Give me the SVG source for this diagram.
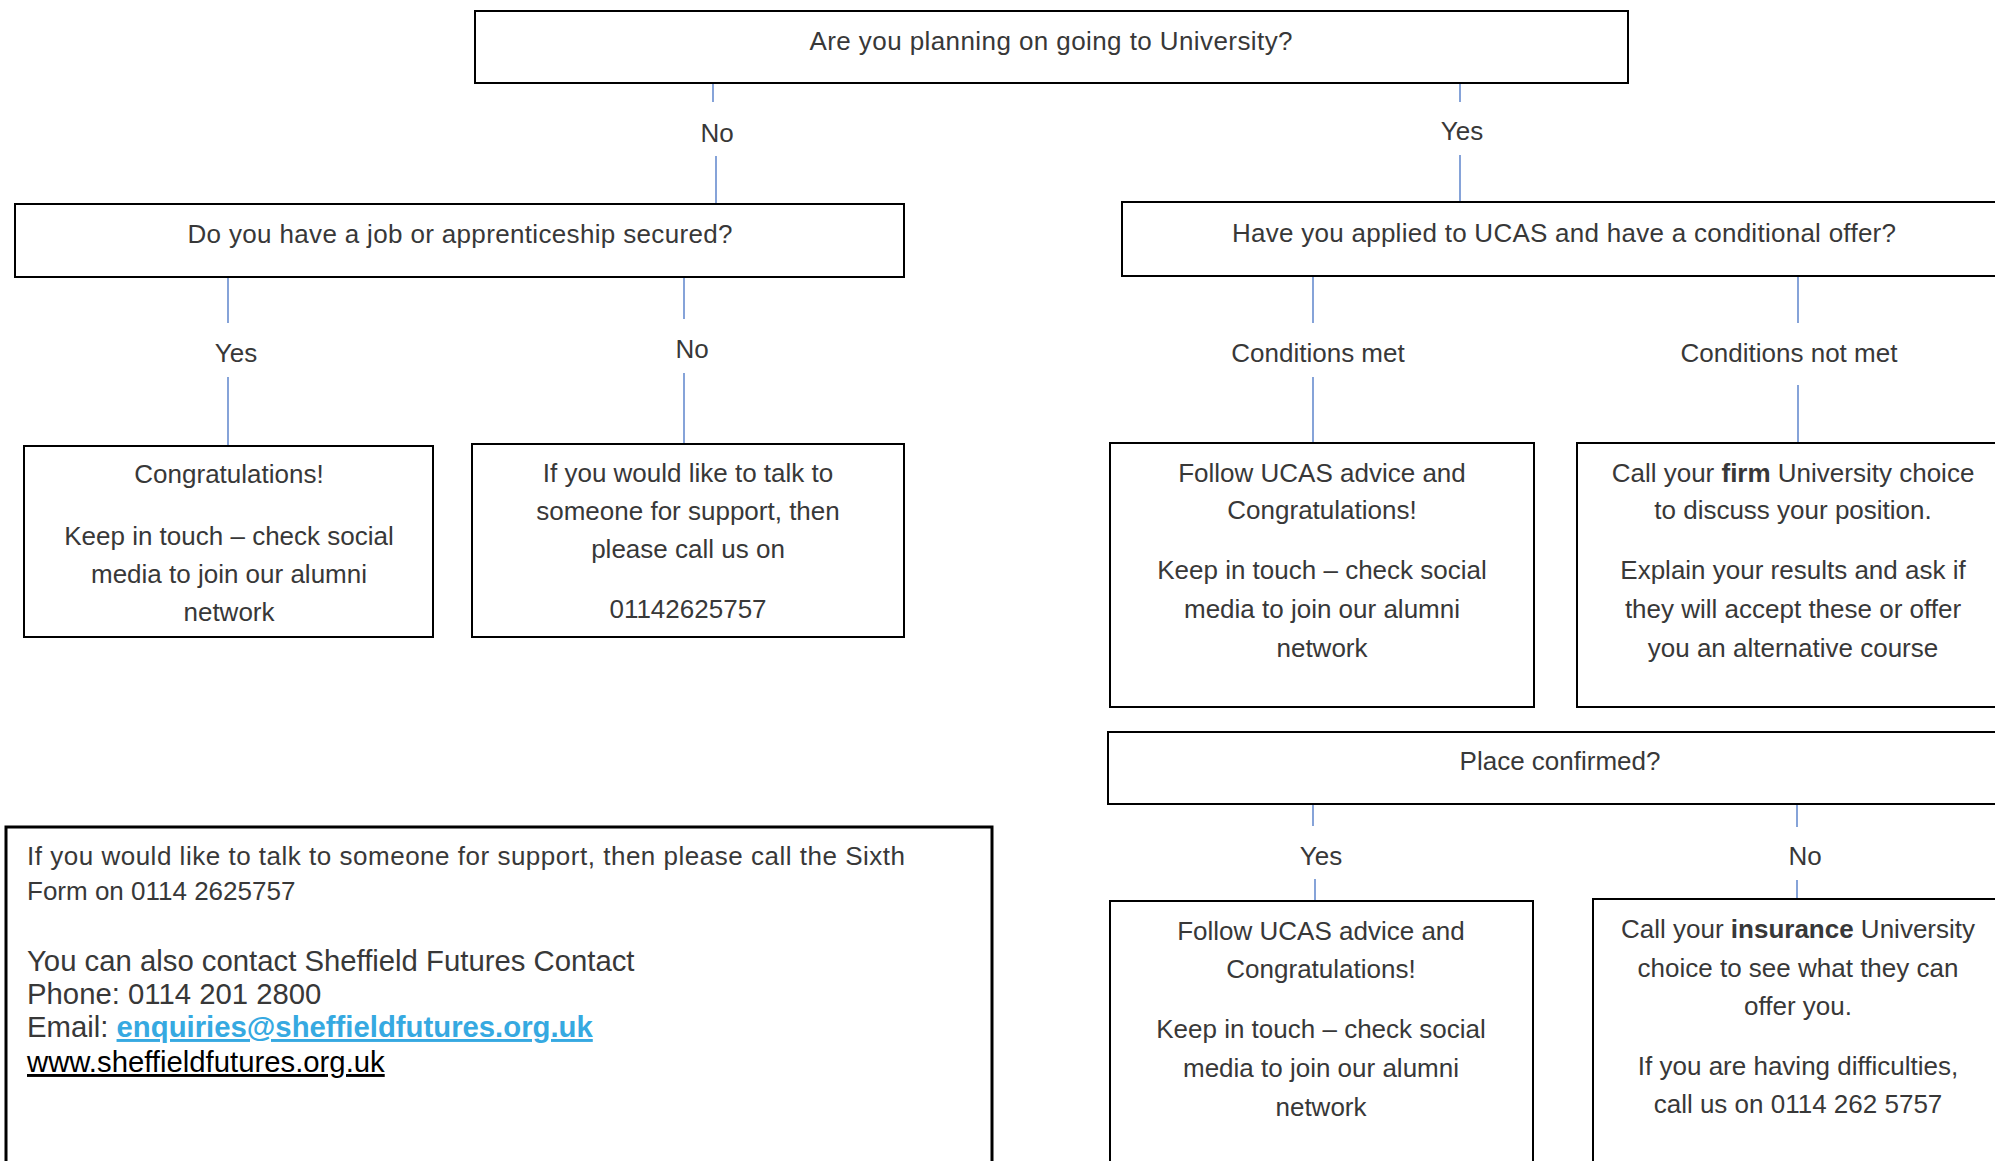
<svg xmlns="http://www.w3.org/2000/svg" width="1995" height="1161" viewBox="0 0 1995 1161">
<style>
.box{fill:#fff;stroke:#000;stroke-width:2}
.info{fill:#fff;stroke:#000;stroke-width:3}
.t{font-family:'Liberation Sans',Arial,sans-serif;font-size:26px;fill:#383838;text-anchor:middle}
.l{font-family:'Liberation Sans',Arial,sans-serif;font-size:26px;fill:#383838}
.a{font-family:'Liberation Sans',Arial,sans-serif;font-size:29.3px;fill:#383838}
.conn line{stroke:#4472C4;stroke-width:1.3}
</style>
<rect width="1995" height="1161" fill="#fff"/>
<g id="connectors" class="conn">
<line x1="713" y1="84" x2="713" y2="102"/><line x1="716" y1="156" x2="716" y2="204"/>
<line x1="1460" y1="84" x2="1460" y2="102"/><line x1="1460" y1="155" x2="1460" y2="202"/>
<line x1="228" y1="278" x2="228" y2="323"/><line x1="228" y1="377" x2="228" y2="445"/>
<line x1="684" y1="278" x2="684" y2="319"/><line x1="684" y1="373" x2="684" y2="443"/>
<line x1="1313" y1="277" x2="1313" y2="323"/><line x1="1313" y1="377" x2="1313" y2="442"/>
<line x1="1798" y1="277" x2="1798" y2="323"/><line x1="1798" y1="385" x2="1798" y2="442"/>
<line x1="1313" y1="805" x2="1313" y2="826"/><line x1="1315" y1="879" x2="1315" y2="900"/>
<line x1="1797" y1="805" x2="1797" y2="827"/><line x1="1797" y1="880" x2="1797" y2="898"/>
</g>
<g id="labels">
<text class="t" x="717" y="142">No</text>
<text class="t" x="1462" y="140">Yes</text>
<text class="t" x="236" y="362">Yes</text>
<text class="t" x="692" y="358">No</text>
<text class="t" x="1318" y="362">Conditions met</text>
<text class="t" x="1789" y="362">Conditions not met</text>
<text class="t" x="1321" y="865">Yes</text>
<text class="t" x="1805" y="865">No</text>
</g>
<g id="q-university">
<rect class="box" x="475" y="11" width="1153" height="72"/>
<text class="t" x="1051" y="50" textLength="483" lengthAdjust="spacing">Are you planning on going to University?</text>
</g>
<g id="q-job">
<rect class="box" x="15" y="204" width="889" height="73"/>
<text class="t" x="460" y="243" textLength="545" lengthAdjust="spacing">Do you have a job or apprenticeship secured?</text>
</g>
<g id="q-ucas">
<rect class="box" x="1122" y="202" width="884" height="74"/>
<text class="t" x="1564" y="242" textLength="664" lengthAdjust="spacing">Have you applied to UCAS and have a conditional offer?</text>
</g>
<g id="congrats-job">
<rect class="box" x="24" y="446" width="409" height="191"/>
<text class="t" x="229" y="483">Congratulations!</text>
<text class="t" x="229" y="545">Keep in touch – check social</text>
<text class="t" x="229" y="583">media to join our alumni</text>
<text class="t" x="229" y="621">network</text>
</g>
<g id="support-call">
<rect class="box" x="472" y="444" width="432" height="193"/>
<text class="t" x="688" y="482">If you would like to talk to</text>
<text class="t" x="688" y="520">someone for support, then</text>
<text class="t" x="688" y="558">please call us on</text>
<text class="t" x="688" y="618">01142625757</text>
</g>
<g id="conditions-met">
<rect class="box" x="1110" y="443" width="424" height="264"/>
<text class="t" x="1322" y="482">Follow UCAS advice and</text>
<text class="t" x="1322" y="519">Congratulations!</text>
<text class="t" x="1322" y="579">Keep in touch – check social</text>
<text class="t" x="1322" y="618">media to join our alumni</text>
<text class="t" x="1322" y="657">network</text>
</g>
<g id="conditions-not-met">
<rect class="box" x="1577" y="443" width="432" height="264"/>
<text class="t" x="1793" y="482">Call your <tspan font-weight="bold">firm</tspan> University choice</text>
<text class="t" x="1793" y="519">to discuss your position.</text>
<text class="t" x="1793" y="579">Explain your results and ask if</text>
<text class="t" x="1793" y="618">they will accept these or offer</text>
<text class="t" x="1793" y="657">you an alternative course</text>
</g>
<g id="q-place">
<rect class="box" x="1108" y="732" width="904" height="72"/>
<text class="t" x="1560" y="770">Place confirmed?</text>
</g>
<g id="place-yes">
<rect class="box" x="1110" y="901" width="423" height="290"/>
<text class="t" x="1321" y="940">Follow UCAS advice and</text>
<text class="t" x="1321" y="978">Congratulations!</text>
<text class="t" x="1321" y="1038">Keep in touch – check social</text>
<text class="t" x="1321" y="1077">media to join our alumni</text>
<text class="t" x="1321" y="1116">network</text>
</g>
<g id="place-no">
<rect class="box" x="1593" y="899" width="412" height="290"/>
<text class="t" x="1798" y="938">Call your <tspan font-weight="bold">insurance</tspan> University</text>
<text class="t" x="1798" y="977">choice to see what they can</text>
<text class="t" x="1798" y="1015">offer you.</text>
<text class="t" x="1798" y="1075">If you are having difficulties,</text>
<text class="t" x="1798" y="1113">call us on 0114 262 5757</text>
</g>
<g id="contact-info">
<rect class="info" x="6" y="827" width="986" height="360"/>
<text class="l" x="27" y="865" textLength="878" lengthAdjust="spacing">If you would like to talk to someone for support, then please call the Sixth</text>
<text class="l" x="27" y="900">Form on 0114 2625757</text>
<text class="a" x="27" y="971">You can also contact Sheffield Futures Contact</text>
<text class="a" x="27" y="1004">Phone: 0114 201 2800</text>
<text class="a" x="27" y="1037">Email: <tspan fill="#36A9E1" font-weight="bold" text-decoration="underline" style="text-decoration:underline">enquiries@sheffieldfutures.org.uk</tspan></text>
<text class="a" x="27" y="1072" fill="#000" style="fill:#000;text-decoration:underline">www.sheffieldfutures.org.uk</text>
</g>
</svg>
